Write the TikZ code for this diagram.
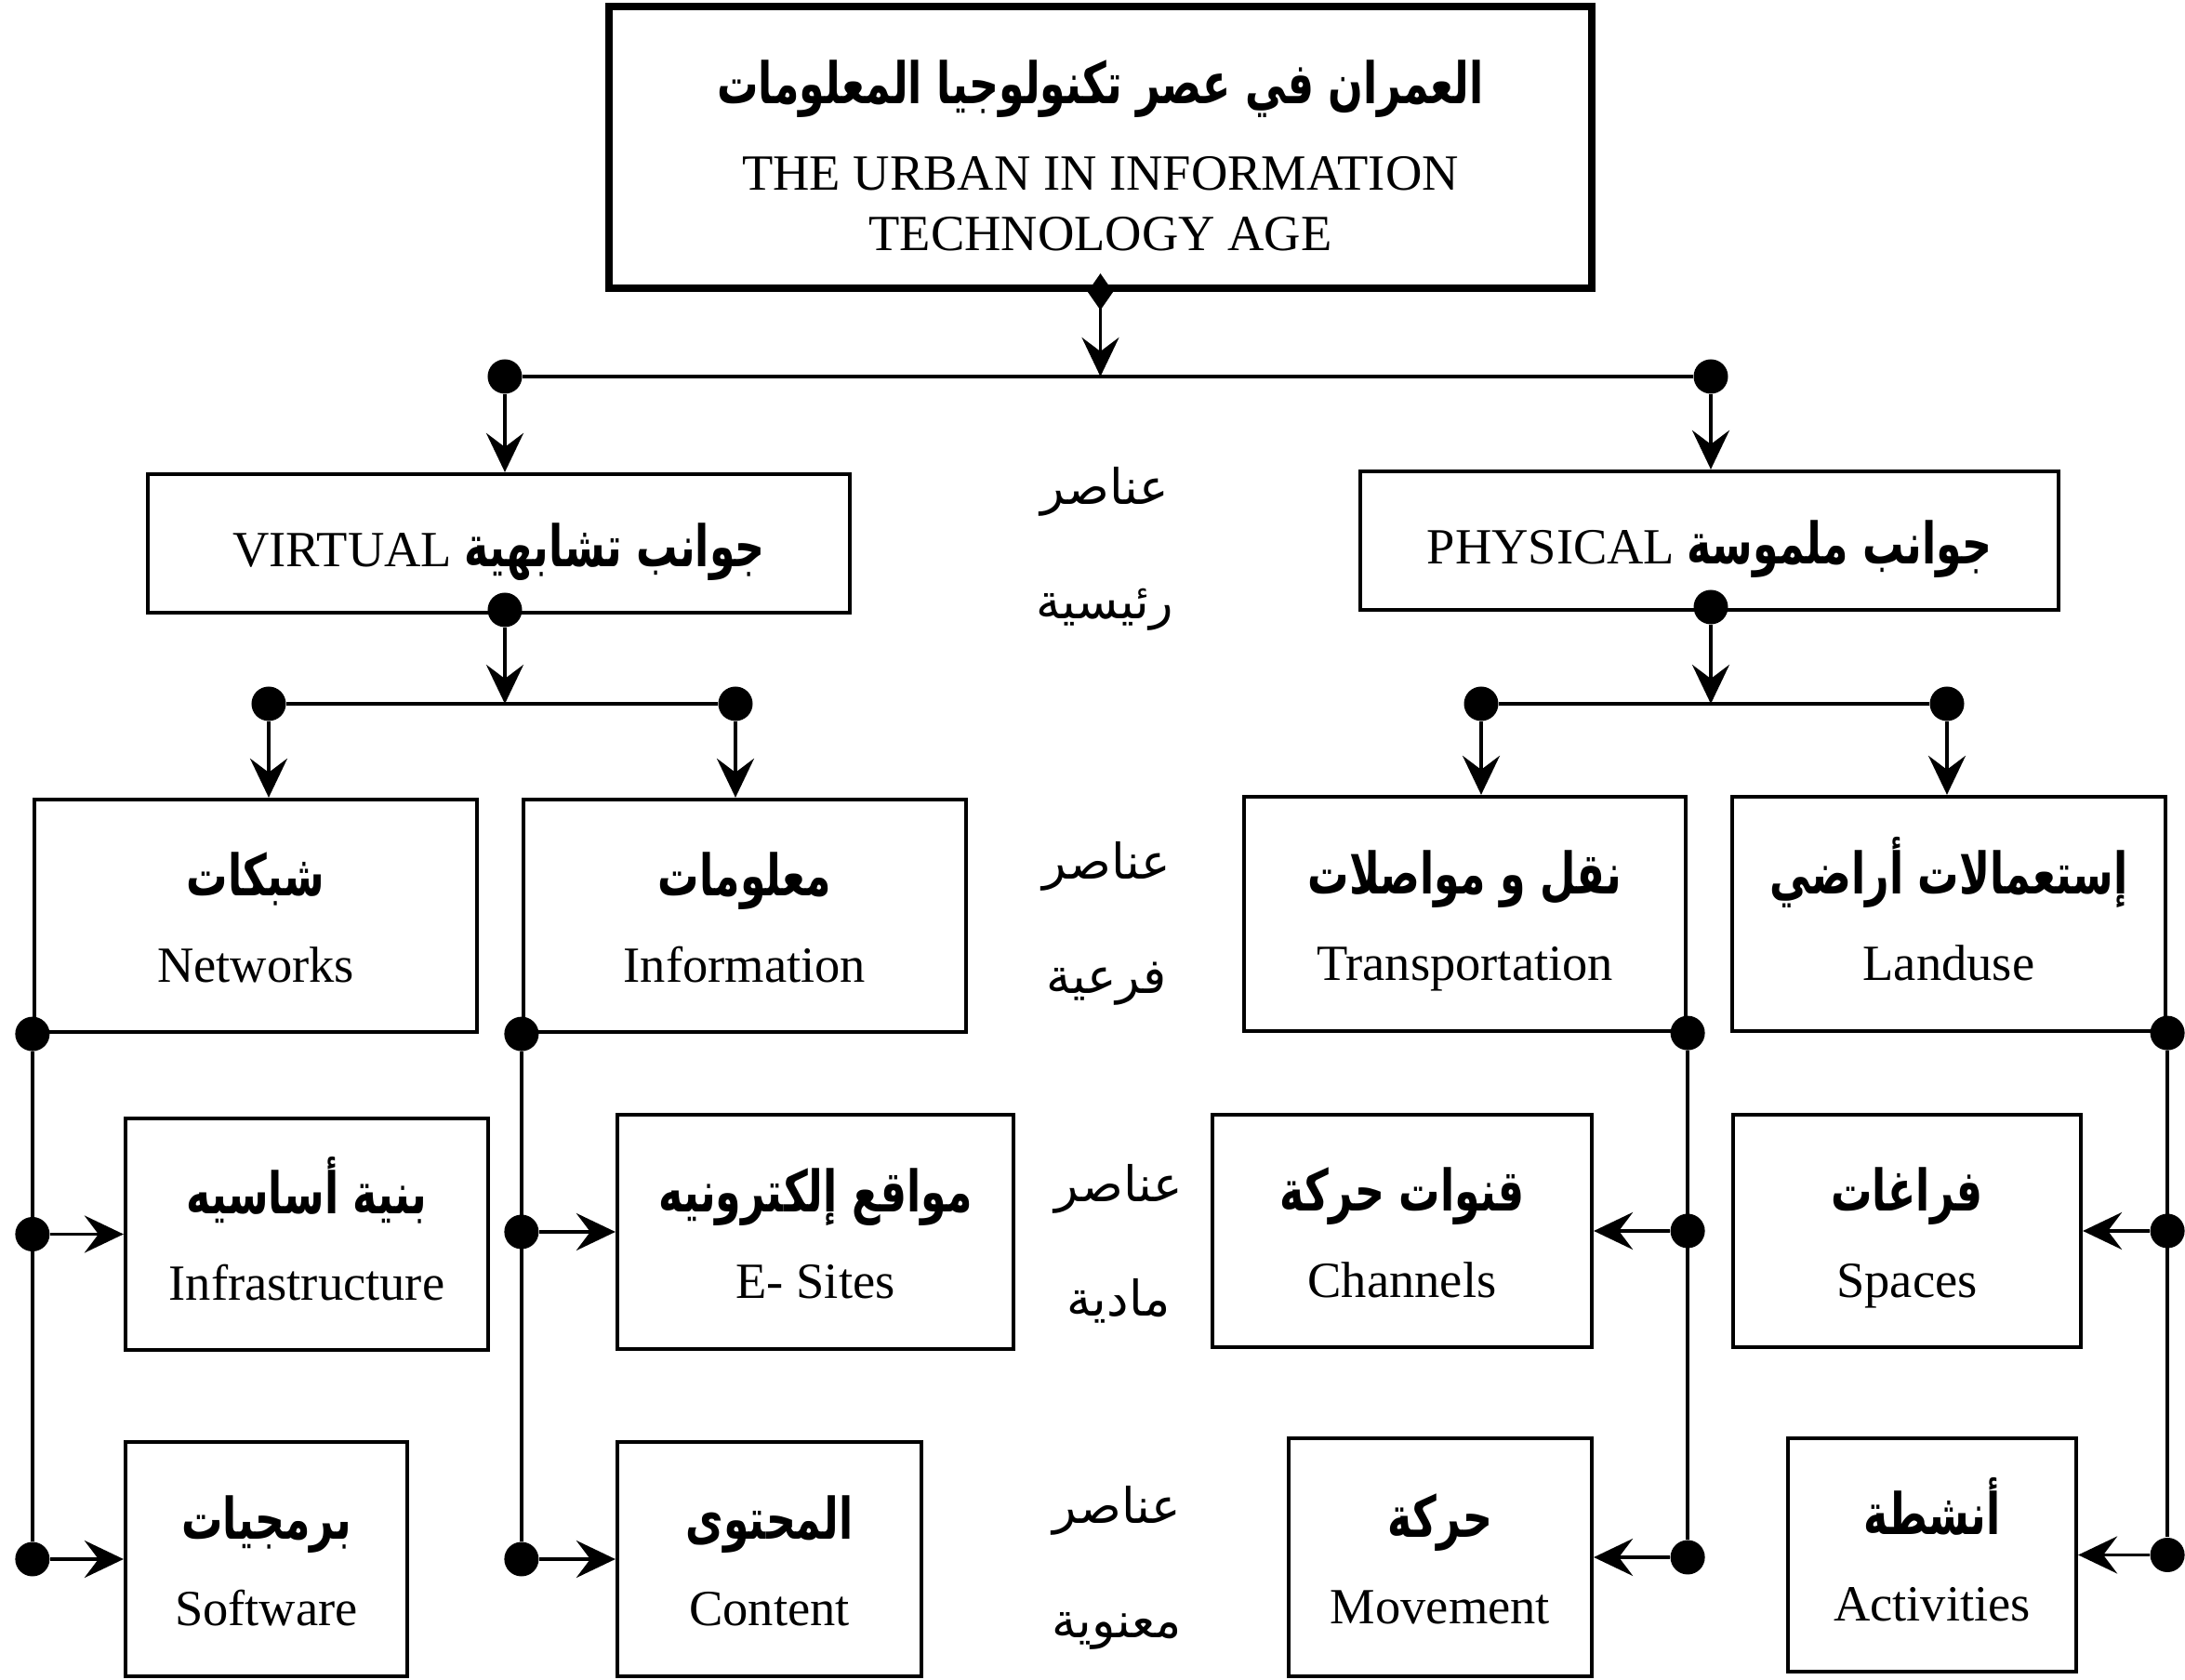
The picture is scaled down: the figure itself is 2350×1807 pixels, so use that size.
\documentclass[tikz,border=0pt]{standalone}
\usepackage{fontspec}
\setmainfont{Liberation Serif}
\newfontfamily\arabicfont[Script=Arabic]{DejaVu Sans}
\newfontfamily\arabichead[Script=Arabic, FakeStretch=0.72]{DejaVu Sans}
\TeXXeTstate=1
\usetikzlibrary{arrows.meta,fit,shapes.geometric}
\newcommand{\artxt}[1]{{\arabicfont\beginR #1\endR}}
\newcommand{\arhead}[1]{{\arabichead\bfseries\fontsize{17.5}{19}\selectfont\beginR #1\endR}}
\newcommand{\lowered}[2][10pt]{\raisebox{-7pt}[#1][0pt]{#2}}
\newcommand{\twoline}[2]{\lowered[12pt]{\arhead{#1}}\\[8pt]\lowered{#2}}

\begin{document}
\begin{tikzpicture}[
  x=0.01cm, y=-0.01cm,
  >={Stealth[length=0.42cm, width=0.4cm, inset=0.15cm]},
  box/.style={draw, line width=1.2pt, inner sep=0pt, align=center, font=\fontsize{15.5}{18.5}\selectfont},
  titlebox/.style={box, line width=2.2pt},
  dot/.style={circle, fill, inner sep=0pt, minimum size=0.37cm},
  wire/.style={line width=1.1pt},
  levelnote/.style={align=center, font=\fontsize{15}{18}\selectfont},
]
  \path[fill=white, use as bounding box] (0,0) rectangle (2350,1807);

  % title
  \node[titlebox, fit={(655,7) (1712,310)}] (urban)
    {\raisebox{-9pt}[12pt][0pt]{\arhead{العمران في عصر تكنولوجيا المعلومات}}\\[8pt]
     \raisebox{-9pt}[10pt][0pt]{THE URBAN IN INFORMATION}\\
     \raisebox{-9pt}[10pt][0pt]{TECHNOLOGY AGE}};
  \node[diamond, fill, inner sep=0pt, minimum width=0.28cm, minimum height=0.4cm] (urbtip) at (urban.south) {};

  % main aspects
  \node[box, fit={(159,510) (914,659)}] (virt) {\lowered{VIRTUAL \arhead{جوانب تشابهية}}};
  \node[box, fit={(1463,507) (2214,656)}] (phys) {\lowered{PHYSICAL \arhead{جوانب ملموسة}}};

  \node[dot] (vtop) at (543,405) {};
  \node[dot] (ptop) at (1840,405) {};
  \draw[wire] (vtop) -- (ptop);
  \draw[wire, ->] (urbtip.center) -- (urbtip |- vtop);
  \draw[wire, ->] (vtop) -- (vtop |- virt.north);
  \draw[wire, ->] (ptop) -- (ptop |- phys.north);

  % sub aspects
  \node[box, fit={(37,860) (513,1110)}] (net) {\twoline{شبكات}{Networks}};
  \node[box, fit={(563,860) (1039,1110)}] (info) {\twoline{معلومات}{Information}};
  \node[box, fit={(1338,857) (1813,1109)}] (tran) {\twoline{نقل و مواصلات}{Transportation}};
  \node[box, fit={(1863,857) (2329,1109)}] (land) {\twoline{إستعمالات أراضي}{Landuse}};

  \node[dot] (virtd) at (543,656) {};
  \node[dot] (physd) at (1840,653) {};
  \node[dot] (vl) at (289,757) {};
  \node[dot] (vr) at (791,757) {};
  \node[dot] (pl) at (1593,757) {};
  \node[dot] (pr) at (2094,757) {};
  \draw[wire] (vl) -- (vr);
  \draw[wire] (pl) -- (pr);
  \draw[wire, ->] (virtd) -- (virtd |- vl);
  \draw[wire, ->] (physd) -- (physd |- pl);
  \foreach \d/\t in {vl/net, vr/info, pl/tran, pr/land}
    \draw[wire, ->] (\d) -- (\d |- \t.north);

  % material and moral elements
  \node[box, fit={(135,1203) (525,1452)}] (infra) {\twoline{بنية أساسيه}{Infrastructure}};
  \node[box, fit={(664,1199) (1090,1451)}] (esite) {\twoline{مواقع إلكترونيه}{E- Sites}};
  \node[box, fit={(1304,1199) (1712,1449)}] (chan) {\twoline{قنوات حركة}{Channels}};
  \node[box, fit={(1864,1199) (2238,1449)}] (space) {\twoline{فراغات}{Spaces}};
  \node[box, fit={(135,1551) (438,1803)}] (soft) {\twoline{برمجيات}{Software}};
  \node[box, fit={(664,1551) (991,1803)}] (cont) {\twoline{المحتوى}{Content}};
  \node[box, fit={(1386,1547) (1712,1803)}] (move) {\twoline{حركة}{Movement}};
  \node[box, fit={(1923,1547) (2233,1798)}] (act) {\twoline{أنشطة}{Activities}};

  \node[dot] (netd) at (net.south west) {};
  \node[dot] (infd) at (info.south west) {};
  \node[dot] (trand) at (tran.south east) {};
  \node[dot] (landd) at (land.south east) {};
  \foreach \d/\u/\w/\s in {netd/infra/soft/west, infd/esite/cont/west, trand/chan/move/east, landd/space/act/east} {
    \node[dot] (\d1) at (\d |- \u.\s) {};
    \node[dot] (\d2) at (\d |- \w.\s) {};
    \draw[wire] (\d) -- (\d2);
    \draw[wire, ->] (\d1) -- (\u.\s);
    \draw[wire, ->] (\d2) -- (\w.\s);
  }

  % level names
  \node[levelnote] (lvmain) at (1188,590) {\artxt{عناصر}\\[17pt]\artxt{رئيسية}};
  \node[levelnote] (lvsub) at (1190,993) {\artxt{عناصر}\\[17pt]\artxt{فرعية}};
  \node[levelnote] (lvmat) at (1203,1338) {\artxt{عناصر}\\[17pt]\artxt{مادية}};
  \node[levelnote] (lvmor) at (1201,1686) {\artxt{عناصر}\\[17pt]\artxt{معنوية}};
\end{tikzpicture}
\end{document}
